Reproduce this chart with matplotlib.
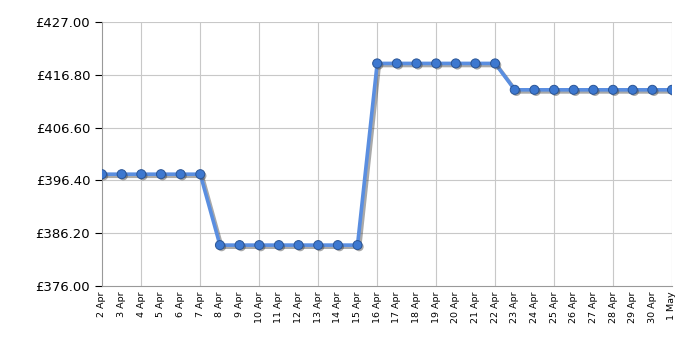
import matplotlib
matplotlib.use("Agg")
import matplotlib.pyplot as plt
import matplotlib.patheffects as pe

# Price history, 2 Apr - 1 May
dates = ["2 Apr", "3 Apr", "4 Apr", "5 Apr", "6 Apr", "7 Apr", "8 Apr", "9 Apr",
         "10 Apr", "11 Apr", "12 Apr", "13 Apr", "14 Apr", "15 Apr", "16 Apr",
         "17 Apr", "18 Apr", "19 Apr", "20 Apr", "21 Apr", "22 Apr", "23 Apr",
         "24 Apr", "25 Apr", "26 Apr", "27 Apr", "28 Apr", "29 Apr", "30 Apr",
         "1 May"]
prices = [397.6] * 6 + [383.9] * 8 + [419.0] * 7 + [413.9] * 9

y_ticks = [376.00, 386.20, 396.40, 406.60, 416.80, 427.00]

fig = plt.figure(figsize=(7, 3.5), dpi=100)
ax = fig.add_axes([102 / 700, 1 - 286 / 350, 570 / 700, 264 / 350])

x = list(range(len(dates)))
shadow = [pe.SimpleLineShadow(offset=(1.5, -1.5), shadow_color="#404040", alpha=0.45, rho=1.0),
          pe.Normal()]
ax.plot(x, prices, color="#5a8ee0", lw=2.6, solid_joinstyle="round",
        path_effects=shadow, zorder=3)
ax.plot(x, prices, linestyle="none", marker="o", ms=6.5, mfc="#3d78d0",
        mec="#2a5596", mew=0.7, zorder=4,
        path_effects=[pe.SimplePatchShadow(offset=(1.2, -1.2), shadow_rgbFace="#404040",
                                           alpha=0.45), pe.Normal()])

ax.set_xlim(0, len(dates) - 1)
ax.set_ylim(y_ticks[0], y_ticks[-1])
ax.set_yticks(y_ticks)
ax.set_yticklabels([f"£{v:.2f}" for v in y_ticks], fontsize=9.5)

ax.set_xticks(x)
ax.set_xticklabels(dates, rotation=90, fontsize=6.8)
major = [i for i in x if i % 3 == 2]
ax.set_xticks(major, minor=True)
ax.tick_params(axis="x", which="major", length=0, pad=4)
ax.tick_params(axis="x", which="minor", length=4, color="black")
ax.tick_params(axis="y", length=5, color="black")

for v in y_ticks[1:]:
    ax.axhline(v, color="#c8c8c8", lw=0.8, zorder=1)
for i in major:
    ax.axvline(i, color="#c8c8c8", lw=0.8, zorder=1)

for s in ["top", "right"]:
    ax.spines[s].set_visible(False)
for s in ["left", "bottom"]:
    ax.spines[s].set_color("#999999")

fig.savefig("out.png", dpi=100)
